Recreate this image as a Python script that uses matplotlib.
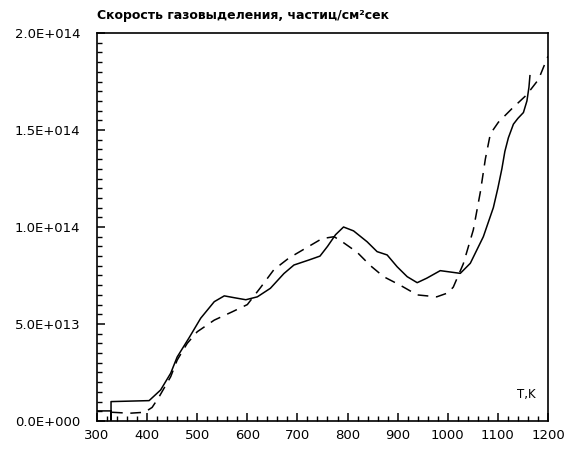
import matplotlib
matplotlib.use('Agg')
from matplotlib import pyplot as plt
from matplotlib.ticker import MultipleLocator, FuncFormatter

# температура, К и скорость газовыделения (сплошная кривая)
t_solid = [300, 328, 328, 328, 404, 427, 447, 460, 484, 507, 534, 554, 575, 597,
           620, 646, 673, 693, 723, 745, 760, 776, 792, 812, 839, 859, 879, 899,
           919, 939, 958, 985, 1025, 1045, 1071, 1091, 1100, 1108, 1114, 1121,
           1131, 1140, 1151, 1158, 1162, 1164]
v_solid = [0.52, 0.52, 0.0, 1.0, 1.05, 1.6, 2.46, 3.3, 4.3, 5.3, 6.15, 6.45, 6.35,
           6.25, 6.4, 6.84, 7.6, 8.04, 8.3, 8.5, 9.0, 9.6, 10.0, 9.8, 9.24, 8.73,
           8.56, 7.95, 7.44, 7.13, 7.36, 7.75, 7.61, 8.13, 9.5, 11.0, 12.0, 13.0,
           13.9, 14.6, 15.3, 15.6, 15.9, 16.5, 17.2, 17.8]

# штриховая кривая
t_dash = [330, 365, 395, 410, 424, 447, 460, 480, 500, 534, 570, 600, 627, 653,
          683, 716, 749, 773, 786, 819, 846, 872, 905, 939, 978, 1000, 1011, 1031,
          1051, 1065, 1075, 1085, 1101, 1128, 1157, 1181, 1200]
v_dash = [0.45, 0.4, 0.45, 0.7, 1.25, 2.28, 3.14, 4.0, 4.6, 5.2, 5.63, 6.0, 6.9,
          7.8, 8.4, 8.9, 9.4, 9.5, 9.3, 8.7, 8.0, 7.44, 7.0, 6.5, 6.4, 6.6, 6.9,
          8.1, 9.85, 11.8, 13.5, 14.8, 15.4, 16.1, 16.8, 17.6, 18.8]

scale = 1e13
y_ticks = [0, 5e13, 1e14, 1.5e14, 2e14]
x_ticks = list(range(300, 1201, 100))


def sci(v, pos):
    if v == 0:
        return '0.0E+000'
    e = 0
    m = v
    while abs(m) >= 10:
        m /= 10
        e += 1
    return '%.1fE+%03d' % (m, e)


fig = plt.figure(figsize=(5.75, 4.54), dpi=100)
ax = fig.add_axes([0.1687, 0.0727, 0.7843, 0.8546])

ax.plot(t_solid, [v * scale for v in v_solid], color='black', lw=1.1)
ax.plot(t_dash, [v * scale for v in v_dash], color='black', lw=1.1,
        linestyle=(0, (7, 5)))

ax.set_xlim(300, 1200)
ax.set_ylim(0, 2e14)
ax.set_xticks(x_ticks)
ax.set_yticks(y_ticks)
ax.xaxis.set_minor_locator(MultipleLocator(20))
ax.yaxis.set_minor_locator(MultipleLocator(5e12))
ax.yaxis.set_major_formatter(FuncFormatter(sci))

ax.tick_params(which='major', direction='in', length=6, width=1.1,
               labelsize=9.5, top=False, right=False)
ax.tick_params(axis='y', which='major', pad=12)
ax.tick_params(axis='x', which='major', pad=6)
ax.tick_params(which='minor', direction='in', length=3.5, width=1,
               top=False, right=False)
for s in ax.spines.values():
    s.set_linewidth(1.2)

ax.text(0.953, 0.067, 'T,K', transform=ax.transAxes, ha='center',
        va='center', fontsize=8.5)
ax.set_title('Скорость газовыделения, частиц/см²сек', loc='left',
             fontsize=9, fontweight='bold', pad=10)

plt.savefig('out.png', dpi=100)
